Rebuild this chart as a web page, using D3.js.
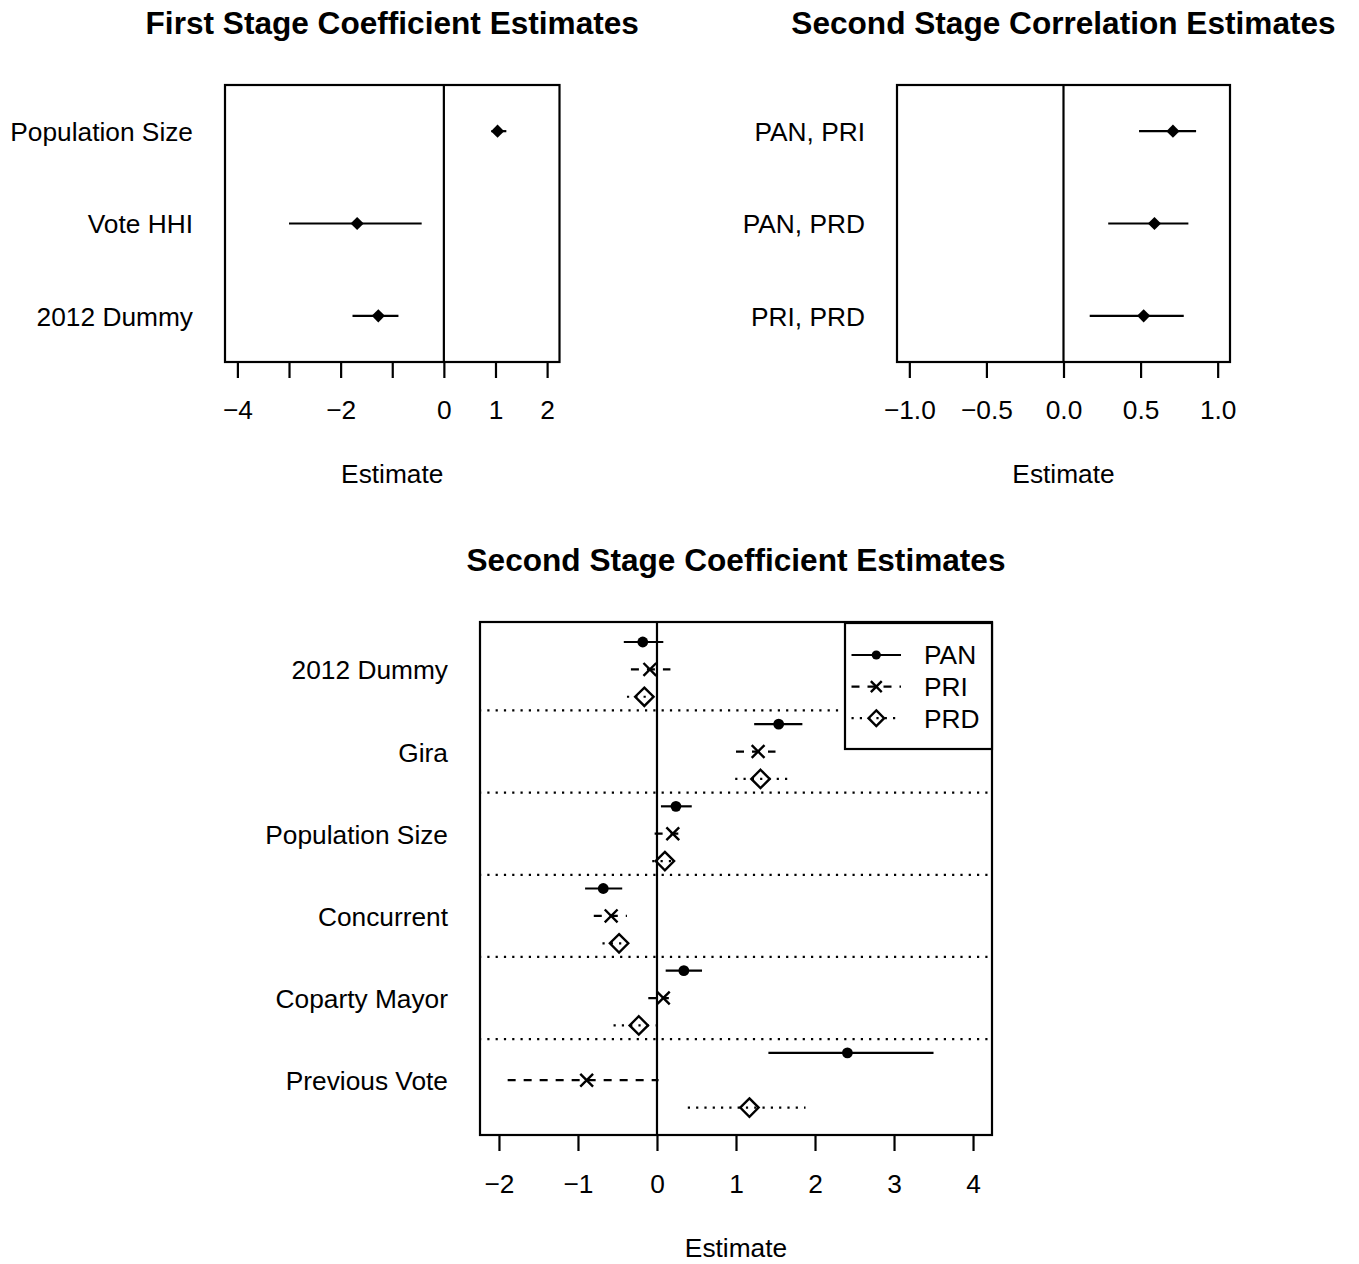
<!DOCTYPE html>
<html>
<head>
<meta charset="utf-8">
<script src="https://cdn.jsdelivr.net/npm/d3@7"></script>
<style>
  html, body { margin: 0; padding: 0; background: #fff; }
  svg { display: block; font-family: "Liberation Sans", Arial, Helvetica, sans-serif; }
</style>
</head>
<body>
<svg id="chart" width="1359" height="1264"></svg>
<script>
// ---------------- data ----------------
// First stage
const fsVars = ["Population Size", "Vote HHI", "2012 Dummy"];
const fsEst = [1.04, -1.68, -1.27];
const fsLo  = [0.92, -3.00, -1.77];
const fsHi  = [1.21, -0.43, -0.88];
const fsTicks = [-4, -3, -2, -1, 0, 1, 2];
const fsTickLabels = ["−4", "", "−2", "", "0", "1", "2"];

// Second stage correlations
const corrPairs = ["PAN, PRI", "PAN, PRD", "PRI, PRD"];
const corrEst = [0.71, 0.59, 0.52];
const corrLo  = [0.49, 0.29, 0.17];
const corrHi  = [0.86, 0.81, 0.78];
const corrTicks = [-1.0, -0.5, 0.0, 0.5, 1.0];

// Second stage coefficients
const ssVars = ["2012 Dummy", "Gira", "Population Size", "Concurrent", "Coparty Mayor", "Previous Vote"];
const parties = ["PAN", "PRI", "PRD"];
const panEst = [-0.18, 1.54, 0.24, -0.68, 0.34, 2.41];
const panLo  = [-0.42, 1.23, 0.05, -0.91, 0.11, 1.41];
const panHi  = [0.08, 1.84, 0.44, -0.44, 0.57, 3.50];
const priEst = [-0.09, 1.28, 0.20, -0.58, 0.08, -0.89];
const priLo  = [-0.33, 1.00, -0.03, -0.80, -0.11, -1.89];
const priHi  = [0.17, 1.50, 0.27, -0.38, 0.15, 0.02];
const prdEst = [-0.16, 1.31, 0.10, -0.48, -0.23, 1.17];
const prdLo  = [-0.38, 0.99, -0.06, -0.69, -0.55, 0.39];
const prdHi  = [0.04, 1.65, 0.20, -0.40, -0.02, 1.88];
const ssTicks = [-2, -1, 0, 1, 2, 3, 4];

// ---------------- drawing ----------------
const svg = d3.select("#chart");
const FS = 26.3;      // base font size
const TFS = 31.6;     // title font size
const LW = 2.2;

function diamondPath(r) {
  return `M0,${-r}L${r},0L0,${r}L${-r},0Z`;
}
function crossPath(r) {
  return `M${-r},${-r}L${r},${r}M${-r},${r}L${r},${-r}`;
}

function styleAxis(g) {
  g.select(".domain").remove();
  g.selectAll(".tick line").attr("stroke", "#000").attr("stroke-width", LW);
  g.selectAll(".tick text").attr("font-size", FS).attr("fill", "#000")
    .attr("font-family", "Liberation Sans, Arial, sans-serif");
}

function simplePanel(opts) {
  const {x0, x1, y0, y1, domain, ticks, tickLabels, cats, est, lo, hi, title} = opts;
  const x = d3.scaleLinear().domain(domain).range([x0, x1]);
  const y = d3.scaleLinear().domain([0.5, 3.5]).range([y0, y1]);
  const g = svg.append("g");

  g.append("text").attr("x", (x0 + x1) / 2).attr("y", 33.5)
    .attr("text-anchor", "middle").attr("font-weight", "bold")
    .attr("font-size", TFS).text(title);

  g.append("line").attr("x1", x(0)).attr("x2", x(0)).attr("y1", y0).attr("y2", y1)
    .attr("stroke", "#000").attr("stroke-width", LW);

  cats.forEach((c, i) => {
    g.append("line").attr("x1", x(lo[i])).attr("x2", x(hi[i]))
      .attr("y1", y(i + 1)).attr("y2", y(i + 1))
      .attr("stroke", "#000").attr("stroke-width", LW);
    g.append("path").attr("d", diamondPath(6.6))
      .attr("transform", `translate(${x(est[i])},${y(i + 1)})`)
      .attr("fill", "#000");
  });

  g.append("rect").attr("x", x0).attr("y", y0).attr("width", x1 - x0).attr("height", y1 - y0)
    .attr("fill", "none").attr("stroke", "#000").attr("stroke-width", LW);

  const ax = g.append("g").attr("transform", `translate(0,${y1})`)
    .call(d3.axisBottom(x).tickValues(ticks).tickSize(16).tickPadding(22.5)
      .tickFormat((d, i) => tickLabels[i]));
  styleAxis(ax);

  const ay = g.append("g").attr("transform", `translate(${x0},0)`)
    .call(d3.axisLeft(y).tickValues([1, 2, 3]).tickSize(0).tickPadding(32)
      .tickFormat(d => cats[d - 1]));
  styleAxis(ay);
  ay.selectAll(".tick text").attr("dy", "0.36em");

  g.append("text").attr("x", (x0 + x1) / 2).attr("y", 483)
    .attr("text-anchor", "middle").attr("font-size", FS).text("Estimate");
}

simplePanel({
  x0: 225, x1: 559.5, y0: 85, y1: 362,
  domain: [-4.24, 2.24], ticks: fsTicks, tickLabels: fsTickLabels,
  cats: fsVars, est: fsEst, lo: fsLo, hi: fsHi,
  title: "First Stage Coefficient Estimates"
});

simplePanel({
  x0: 897, x1: 1230, y0: 85, y1: 362,
  domain: [-1.08, 1.08], ticks: corrTicks, tickLabels: corrTicks.map(d3.format(".1f")),
  cats: corrPairs, est: corrEst, lo: corrLo, hi: corrHi,
  title: "Second Stage Correlation Estimates"
});

// ---------- bottom panel ----------
(function () {
  const x0 = 480, x1 = 992, y0 = 622, y1 = 1135;
  const x = d3.scaleLinear().domain([-2.24, 4.24]).range([x0, x1]);
  const y = d3.scaleLinear().domain([-0.73, 18.0]).range([y0, y1]);
  const g = svg.append("g");

  g.append("text").attr("x", (x0 + x1) / 2).attr("y", 571)
    .attr("text-anchor", "middle").attr("font-weight", "bold")
    .attr("font-size", TFS).text("Second Stage Coefficient Estimates");

  const series = [
    {name: "PAN", est: panEst, lo: panLo, hi: panHi, dash: null, sym: "circle"},
    {name: "PRI", est: priEst, lo: priLo, hi: priHi, dash: "8,8", sym: "cross"},
    {name: "PRD", est: prdEst, lo: prdLo, hi: prdHi, dash: "2.2,6.1", sym: "diamond"}
  ];

  function drawSym(sel, sym, cx, cy, k) {
    if (sym === "circle") {
      sel.append("circle").attr("cx", cx).attr("cy", cy).attr("r", 5.4 * k).attr("fill", "#000");
    } else if (sym === "cross") {
      sel.append("path").attr("d", crossPath(6.4 * k)).attr("transform", `translate(${cx},${cy})`)
        .attr("fill", "none").attr("stroke", "#000").attr("stroke-width", 2.4);
    } else {
      sel.append("path").attr("d", diamondPath(9.2 * k)).attr("transform", `translate(${cx},${cy})`)
        .attr("fill", "none").attr("stroke", "#000").attr("stroke-width", 2.4);
    }
  }

  for (let k = 1; k < ssVars.length; k++) {
    const yy = y(3 * k - 0.5);
    g.append("line").attr("x1", x0).attr("x2", x1).attr("y1", yy).attr("y2", yy)
      .attr("stroke", "#000").attr("stroke-width", LW)
      .attr("stroke-dasharray", "2.2,6.1").attr("stroke-dashoffset", 1);
  }

  g.append("line").attr("x1", x(0)).attr("x2", x(0)).attr("y1", y0).attr("y2", y1)
    .attr("stroke", "#000").attr("stroke-width", LW);

  ssVars.forEach((v, i) => {
    series.forEach((s, j) => {
      const row = 3 * i + j;
      const ln = g.append("line").attr("x1", x(s.lo[i])).attr("x2", x(s.hi[i]))
        .attr("y1", y(row)).attr("y2", y(row))
        .attr("stroke", "#000").attr("stroke-width", LW);
      if (s.dash) ln.attr("stroke-dasharray", s.dash);
      drawSym(g, s.sym, x(s.est[i]), y(row), 1);
    });
  });

  g.append("rect").attr("x", x0).attr("y", y0).attr("width", x1 - x0).attr("height", y1 - y0)
    .attr("fill", "none").attr("stroke", "#000").attr("stroke-width", LW);

  const ax = g.append("g").attr("transform", `translate(0,${y1})`)
    .call(d3.axisBottom(x).tickValues(ssTicks).tickSize(16).tickPadding(23)
      .tickFormat(d3.format("d")));
  styleAxis(ax);

  const ay = g.append("g").attr("transform", `translate(${x0},0)`)
    .call(d3.axisLeft(y).tickValues(ssVars.map((v, i) => 3 * i + 1)).tickSize(0).tickPadding(32)
      .tickFormat(d => ssVars[(d - 1) / 3]));
  styleAxis(ay);
  ay.selectAll(".tick text").attr("dy", "0.36em");

  g.append("text").attr("x", (x0 + x1) / 2).attr("y", 1257)
    .attr("text-anchor", "middle").attr("font-size", FS).text("Estimate");

  // legend
  const lx0 = 845, ly0 = 623, lx1 = x1, ly1 = 749;
  const lg = g.append("g");
  lg.append("rect").attr("x", lx0).attr("y", ly0).attr("width", lx1 - lx0).attr("height", ly1 - ly0)
    .attr("fill", "#fff").attr("stroke", "#000").attr("stroke-width", LW);
  series.forEach((s, j) => {
    const yy = 655 + j * 31.6;
    const ln = lg.append("line").attr("x1", 851.5).attr("x2", 901).attr("y1", yy).attr("y2", yy)
      .attr("stroke", "#000").attr("stroke-width", LW);
    if (s.dash) ln.attr("stroke-dasharray", s.dash);
    drawSym(lg, s.sym, 876.3, yy, 0.85);
    lg.append("text").attr("x", 924).attr("y", yy + 9.4).attr("font-size", FS).text(s.name);
  });
})();
</script>
</body>
</html>
